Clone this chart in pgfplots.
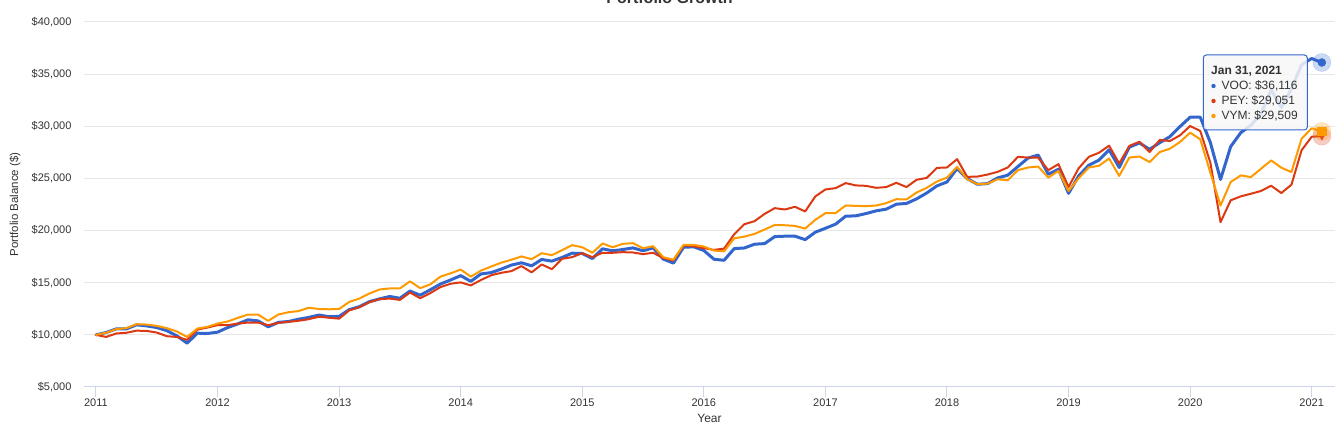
\documentclass[border=0pt]{standalone}
\usepackage{fontspec}
\setmainfont{Liberation Sans}
\usepackage{pgfplots}
\usepackage{pgfplotstable}
\pgfplotsset{compat=1.18}
\definecolor{voo}{HTML}{3366CC}
\definecolor{pey}{HTML}{DC3912}
\definecolor{vym}{HTML}{FF9900}
\definecolor{gridc}{HTML}{E6E6E6}
\definecolor{axisc}{HTML}{CCD6EB}
\definecolor{txt}{HTML}{333333}

% month index (0 = start, Jan 2011) and balance in thousands of dollars
\pgfplotstableread{
m v
0 10.00
1 10.22
2 10.57
3 10.57
4 10.96
5 10.86
6 10.70
7 10.40
8 9.90
9 9.20
10 10.16
11 10.13
12 10.26
13 10.70
14 11.05
15 11.44
16 11.34
17 10.77
18 11.20
19 11.28
20 11.50
21 11.67
22 11.90
23 11.74
24 11.77
25 12.42
26 12.70
27 13.19
28 13.45
29 13.68
30 13.51
31 14.20
32 13.80
33 14.32
34 14.87
35 15.26
36 15.68
37 15.13
38 15.84
39 15.97
40 16.30
41 16.69
42 16.91
43 16.62
44 17.23
45 17.07
46 17.42
47 17.83
48 17.80
49 17.32
50 18.25
51 18.06
52 18.18
53 18.34
54 18.06
55 18.34
56 17.26
57 16.88
58 18.40
59 18.44
60 18.09
61 17.25
62 17.15
63 18.27
64 18.33
65 18.69
66 18.75
67 19.42
68 19.46
69 19.46
70 19.13
71 19.84
72 20.22
73 20.61
74 21.38
75 21.41
76 21.63
77 21.89
78 22.05
79 22.53
80 22.60
81 23.04
82 23.60
83 24.28
84 24.66
85 25.95
86 24.98
87 24.44
88 24.50
89 25.05
90 25.31
91 26.14
92 26.95
93 27.24
94 25.40
95 25.88
96 23.57
97 25.24
98 26.27
99 26.75
100 27.75
101 26.05
102 28.00
103 28.40
104 27.79
105 28.43
106 29.00
107 29.97
108 30.87
109 30.87
110 28.43
111 24.90
112 28.05
113 29.39
114 30.10
115 31.20
116 33.50
117 31.80
118 33.60
119 35.90
120 36.50
121 36.116
}\voo

\pgfplotstableread{
m v
0 10.00
1 9.80
2 10.13
3 10.20
4 10.40
5 10.38
6 10.22
7 9.87
8 9.80
9 9.52
10 10.50
11 10.70
12 10.93
13 10.93
14 11.08
15 11.18
16 11.18
17 10.93
18 11.15
19 11.25
20 11.35
21 11.50
22 11.74
23 11.64
24 11.55
25 12.35
26 12.64
27 13.13
28 13.42
29 13.48
30 13.35
31 14.06
32 13.51
33 14.00
34 14.58
35 14.90
36 15.03
37 14.74
38 15.26
39 15.71
40 15.95
41 16.11
42 16.59
43 15.99
44 16.75
45 16.30
46 17.29
47 17.45
48 17.83
49 17.45
50 17.87
51 17.87
52 17.93
53 17.90
54 17.74
55 17.87
56 17.36
57 17.13
58 18.57
59 18.50
60 18.31
61 18.15
62 18.27
63 19.65
64 20.61
65 20.90
66 21.60
67 22.15
68 22.02
69 22.28
70 21.83
71 23.27
72 23.94
73 24.07
74 24.55
75 24.33
76 24.29
77 24.10
78 24.17
79 24.58
80 24.17
81 24.87
82 25.05
83 26.01
84 26.05
85 26.85
86 25.15
87 25.18
88 25.37
89 25.63
90 26.05
91 27.07
92 27.00
93 27.00
94 25.79
95 26.37
96 24.18
97 25.98
98 27.07
99 27.46
100 28.14
101 26.43
102 28.12
103 28.52
104 27.53
105 28.69
106 28.59
107 29.13
108 30.03
109 29.55
110 26.50
111 20.80
112 22.90
113 23.28
114 23.53
115 23.80
116 24.30
117 23.60
118 24.40
119 27.70
120 29.00
121 29.051
}\pey

\pgfplotstableread{
m v
0 10.00
1 10.20
2 10.55
3 10.64
4 11.02
5 10.99
6 10.86
7 10.64
8 10.32
9 9.80
10 10.60
11 10.77
12 11.08
13 11.28
14 11.63
15 11.95
16 11.95
17 11.34
18 11.95
19 12.17
20 12.28
21 12.60
22 12.48
23 12.45
24 12.48
25 13.16
26 13.48
27 13.97
28 14.35
29 14.45
30 14.45
31 15.13
32 14.48
33 14.84
34 15.58
35 15.90
36 16.26
37 15.58
38 16.16
39 16.55
40 16.92
41 17.20
42 17.52
43 17.26
44 17.83
45 17.64
46 18.12
47 18.60
48 18.40
49 17.87
50 18.76
51 18.40
52 18.73
53 18.79
54 18.31
55 18.50
56 17.45
57 17.20
58 18.63
59 18.63
60 18.47
61 18.08
62 18.01
63 19.26
64 19.42
65 19.68
66 20.10
67 20.54
68 20.51
69 20.45
70 20.19
71 21.03
72 21.67
73 21.67
74 22.40
75 22.37
76 22.34
77 22.40
78 22.63
79 23.01
80 22.98
81 23.65
82 24.10
83 24.70
84 25.08
85 26.11
86 24.92
87 24.44
88 24.50
89 24.92
90 24.82
91 25.79
92 26.05
93 26.14
94 25.08
95 25.72
96 23.80
97 25.02
98 26.05
99 26.21
100 26.91
101 25.24
102 27.00
103 27.10
104 26.57
105 27.53
106 27.85
107 28.49
108 29.39
109 28.75
110 25.55
111 22.40
112 24.65
113 25.29
114 25.13
115 25.93
116 26.73
117 26.03
118 25.61
119 28.81
120 29.81
121 29.509
}\vym

\begin{document}
\begin{tikzpicture}[x=1pt,y=1pt]
\path[use as bounding box] (-84,-48) rectangle (1255,387);
\begin{axis}[
	at={(0,0)}, anchor=south west,
	width=1251pt, height=365pt, scale only axis,
	xmin=-1.18, xmax=122.3,
	ymin=5, ymax=40,
	axis x line*=bottom, axis y line*=left,
	x axis line style={draw=axisc, line width=1pt},
	y axis line style={draw=none},
	xtick={0,12,...,120},
	xticklabels={2011,2012,2013,2014,2015,2016,2017,2018,2019,2020,2021},
	ytick={5,10,...,40},
	yticklabels={{\$5,000},{\$10,000},{\$15,000},{\$20,000},{\$25,000},{\$30,000},{\$35,000},{\$40,000}},
	tick align=outside,
	major tick length=10pt,
	xtick style={draw=axisc, line width=1pt},
	ytick style={draw=none},
	ymajorgrids,
	grid style={draw=gridc, line width=1pt},
	ticklabel style={font=\fontsize{11}{13}\selectfont, text=txt},
	xticklabel style={yshift=2pt},
	yticklabel style={xshift=1pt},
	xlabel={Year},
	xlabel style={at={(axis description cs:0.5,-0.0986)}, anchor=base,
		font=\fontsize{12}{14}\selectfont, text=txt},
	ylabel={Portfolio Balance (\$)},
	ylabel style={at={(axis description cs:-0.0552,0.5)}, anchor=center,
		font=\fontsize{11.5}{14}\selectfont, text=txt},
	clip=false,
	every axis plot/.append style={line join=round, line cap=round},
]
\addplot[voo, line width=3pt, mark=none] table[x=m, y=v] {\voo};
\addplot[pey, line width=2pt, mark=none] table[x=m, y=v] {\pey};
\addplot[vym, line width=2pt, mark=none] table[x=m, y=v] {\vym};
% hover markers on the last month
\addplot[only marks, mark=*, mark size=9pt, voo, opacity=0.25] coordinates {(121,36.116)};
\addplot[only marks, mark=*, mark size=4pt, voo] coordinates {(121,36.116)};
\addplot[only marks, mark=*, mark size=9pt, pey, opacity=0.25] coordinates {(121,29.051)};
\addplot[only marks, mark=triangle*, mark size=4pt, pey, mark options={rotate=180}] coordinates {(121,29.051)};
\addplot[only marks, mark=*, mark size=9pt, vym, opacity=0.25] coordinates {(121,29.509)};
\addplot[only marks, mark=square*, mark size=4.2pt, vym] coordinates {(121,29.509)};
\end{axis}
% chart title, cut by the top edge
\node[anchor=base, font=\bfseries\fontsize{16}{18}\selectfont, text=txt] at (585.5,383) {Portfolio Growth};
% tooltip
\draw[draw=voo, line width=1pt, rounded corners=3pt, fill=white!97!black, fill opacity=0.85]
	(1119.3,257) rectangle (1223.3,332);
\node[anchor=base west, inner sep=0pt, font=\bfseries\fontsize{12}{14}\selectfont, text=txt] at (1127,312) {Jan 31, 2021};
\fill[voo] (1129.5,301) circle (2.2);
\fill[pey] (1129.5,286) circle (2.2);
\fill[vym] (1129.5,271) circle (2.2);
\node[anchor=base west, inner sep=0pt, font=\fontsize{12}{14}\selectfont, text=txt] at (1137.5,297) {VOO: \$36,116};
\node[anchor=base west, inner sep=0pt, font=\fontsize{12}{14}\selectfont, text=txt] at (1137.5,282) {PEY: \$29,051};
\node[anchor=base west, inner sep=0pt, font=\fontsize{12}{14}\selectfont, text=txt] at (1137.5,267) {VYM: \$29,509};
\end{tikzpicture}
\end{document}
